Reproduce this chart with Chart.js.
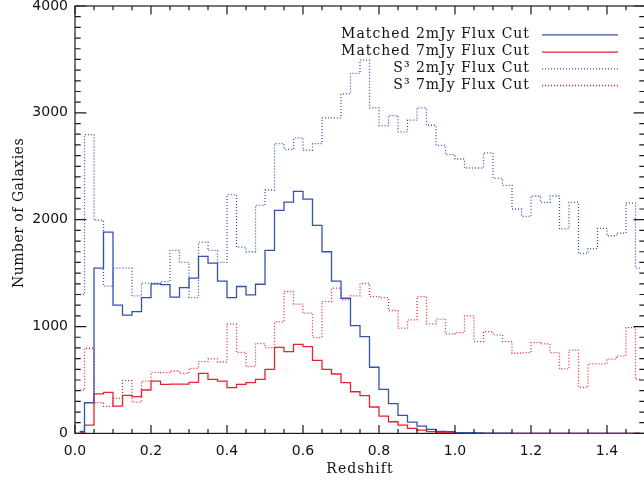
<!DOCTYPE html>
<html>
<head>
<meta charset="utf-8">
<script src="https://cdn.jsdelivr.net/npm/chart.js@4.4.1/dist/chart.umd.min.js"></script>
<style>
  html, body { margin: 0; padding: 0; background: #fff; overflow: hidden; }
  #wrap { width: 652px; height: 481px; }
</style>
</head>
<body>
<div id="wrap"><canvas id="galaxies" width="652" height="481"></canvas></div>
<script>
// bin centres (redshift), bins of 0.025
const redshift = [
  0.0125, 0.0375, 0.0625, 0.0875, 0.1125, 0.1375, 0.1625, 0.1875, 0.2125, 0.2375,
  0.2625, 0.2875, 0.3125, 0.3375, 0.3625, 0.3875, 0.4125, 0.4375, 0.4625, 0.4875,
  0.5125, 0.5375, 0.5625, 0.5875, 0.6125, 0.6375, 0.6625, 0.6875, 0.7125, 0.7375,
  0.7625, 0.7875, 0.8125, 0.8375, 0.8625, 0.8875, 0.9125, 0.9375, 0.9625, 0.9875,
  1.0125, 1.0375, 1.0625, 1.0875, 1.1125, 1.1375, 1.1625, 1.1875, 1.2125, 1.2375,
  1.2625, 1.2875, 1.3125, 1.3375, 1.3625, 1.3875, 1.4125, 1.4375, 1.4625, 1.4875
];

const matched2mJy = [
  18, 287, 1546, 1884, 1200, 1106, 1140, 1271, 1400, 1393,
  1275, 1365, 1453, 1656, 1593, 1425, 1271, 1375, 1296, 1396,
  1712, 2087, 2165, 2265, 2193, 1946, 1700, 1425, 1265, 1009,
  906, 619, 412, 278, 169, 106, 69, 37, 19, 17,
  8, 7, 4, 3, 2, 2, 1, 1, 0, 0,
  0, 0, 0, 0, 0, 0, 0, 0, 0, 0
];

const matched7mJy = [
  12, 78, 369, 384, 256, 356, 344, 406, 490, 459,
  462, 462, 478, 562, 506, 490, 428, 459, 475, 506,
  600, 806, 765, 834, 812, 684, 600, 556, 475, 390,
  353, 247, 162, 109, 78, 47, 31, 16, 8, 7,
  4, 3, 2, 1, 0, 0, 0, 0, 0, 0,
  0, 0, 0, 0, 0, 0, 0, 0, 0, 0
];

const s3_2mJy = [
  1300, 2796, 1995, 1378, 1546, 1546, 1287, 1406, 1406, 1421,
  1712, 1600, 1271, 1790, 1712, 1600, 2234, 1743, 1700, 2134,
  2278, 2712, 2659, 2765, 2650, 2712, 2953, 2953, 3178, 3369,
  3494, 3047, 2881, 2974, 2822, 2931, 3047, 2884, 2696, 2609,
  2568, 2484, 2484, 2625, 2387, 2321, 2100, 2031, 2222, 2162,
  2222, 1914, 2162, 1684, 1730, 1918, 1850, 1875, 2156, 1546
];

const s3_7mJy = [
  406, 797, 287, 253, 328, 494, 292, 490, 572, 569,
  584, 562, 609, 672, 697, 668, 1022, 758, 625, 841,
  803, 1043, 1328, 1209, 1125, 897, 1234, 1359, 1250, 1287,
  1403, 1281, 1271, 1150, 985, 1063, 1281, 1025, 1069, 931,
  943, 1100, 859, 953, 922, 859, 750, 756, 850, 837,
  756, 603, 780, 430, 650, 650, 695, 725, 990, 505
];

const seriesLabels = ['Matched 2mJy Flux Cut', 'Matched 7mJy Flux Cut', 'S\u00B3 2mJy Flux Cut', 'S\u00B3 7mJy Flux Cut'];

const BLUE = '#3352ad';
const RED = '#e8232b';

function pts(vals) {
  return vals.map((v, i) => ({ x: redshift[i], y: v }));
}

function histSet(label, vals, color, dotted) {
  return {
    label: label,
    data: pts(vals),
    borderColor: color,
    borderWidth: 1.3,
    borderDash: dotted ? [1, 2] : [],
    stepped: 'middle',
    pointRadius: 0,
    fill: false
  };
}

// IDL style frame (under the data) with inward ticks on all four sides
const frameTicks = {
  id: 'frameTicks',
  beforeDatasetsDraw(chart) {
    const { ctx, chartArea: a } = chart;
    ctx.save();
    ctx.setLineDash([]);
    ctx.strokeStyle = '#1a1a1a';
    ctx.lineWidth = 1.2;
    ctx.strokeRect(a.left, a.top, a.right - a.left, a.bottom - a.top);
    ctx.restore();
  },
  afterDraw(chart) {
    const { ctx, chartArea: a, scales } = chart;
    const xs = scales.x, ys = scales.y;
    ctx.save();
    ctx.setLineDash([]);
    ctx.strokeStyle = '#1a1a1a';
    ctx.lineWidth = 1.2;
    for (let i = 0; i <= 30; i++) {
      const px = xs.getPixelForValue(i * 0.05);
      const len = (i % 4 === 0) ? 8.5 : 4.3;
      ctx.beginPath();
      ctx.moveTo(px, a.bottom); ctx.lineTo(px, a.bottom - len);
      ctx.moveTo(px, a.top); ctx.lineTo(px, a.top + len);
      ctx.stroke();
    }
    for (let i = 0; i <= 40; i++) {
      const py = ys.getPixelForValue(i * 100);
      const len = (i % 10 === 0) ? 11.4 : 5.7;
      ctx.beginPath();
      ctx.moveTo(a.left, py); ctx.lineTo(a.left + len, py);
      ctx.moveTo(a.right, py); ctx.lineTo(a.right - len, py);
      ctx.stroke();
    }
    ctx.restore();
  }
};

// axis titles and the legend in the top right corner
const textBits = {
  id: 'textBits',
  afterDatasetsDraw(chart) {
    const { ctx, chartArea: a } = chart;
    ctx.save();
    ctx.fillStyle = '#111';
    ctx.font = '14px "DejaVu Serif"';
    ctx.letterSpacing = '1px';
    ctx.textAlign = 'center';
    ctx.textBaseline = 'middle';
    ctx.fillText('Redshift', (a.left + a.right) / 2, 469);

    ctx.save();
    ctx.translate(19, 213);
    ctx.rotate(-Math.PI / 2);
    ctx.letterSpacing = '0.5px';
    ctx.fillText('Number of Galaxies', 0, 0);
    ctx.restore();

    const rows = [34.3, 51.7, 68.3, 85];
    chart.data.datasets.forEach((ds, i) => {
      const y = rows[i];
      ctx.textAlign = 'right';
      ctx.fillStyle = '#111';
      ctx.fillText(ds.label, 530, y);
      ctx.beginPath();
      ctx.strokeStyle = ds.borderColor;
      ctx.lineWidth = ds.borderWidth;
      ctx.setLineDash(ds.borderDash);
      ctx.moveTo(542, y + 0.5);
      ctx.lineTo(618, y + 0.5);
      ctx.stroke();
      ctx.setLineDash([]);
    });
    ctx.restore();
  }
};

new Chart(document.getElementById('galaxies'), {
  type: 'line',
  data: {
    datasets: [
      histSet(seriesLabels[0], matched2mJy, BLUE, false),
      histSet(seriesLabels[1], matched7mJy, RED, false),
      histSet(seriesLabels[2], s3_2mJy, BLUE, true),
      histSet(seriesLabels[3], s3_7mJy, RED, true)
    ]
  },
  options: {
    responsive: false,
    animation: false,
    events: [],
    layout: { padding: { top: 6, right: 7, left: 0, bottom: 0 } },
    plugins: { legend: { display: false }, tooltip: { enabled: false } },
    scales: {
      x: {
        type: 'linear',
        min: 0,
        max: 1.5,
        grid: { display: false, drawTicks: false },
        border: { display: false },
        ticks: {
          stepSize: 0.2,
          includeBounds: false,
          padding: 10,
          color: '#111',
          font: { family: 'DejaVu Sans', size: 14 },
          callback: v => v.toFixed(1)
        },
        afterFit(s) { s.height = 47.6; s.paddingLeft = 0; s.paddingRight = 0; }
      },
      y: {
        min: 0,
        max: 4000,
        grid: { display: false, drawTicks: false },
        border: { display: false },
        ticks: {
          stepSize: 1000,
          padding: 7,
          color: '#111',
          font: { family: 'DejaVu Sans', size: 14 },
          callback: v => String(v)
        },
        afterFit(s) { s.width = 75; s.paddingTop = 0; s.paddingBottom = 0; }
      }
    }
  },
  plugins: [frameTicks, textBits]
});
</script>
</body>
</html>
